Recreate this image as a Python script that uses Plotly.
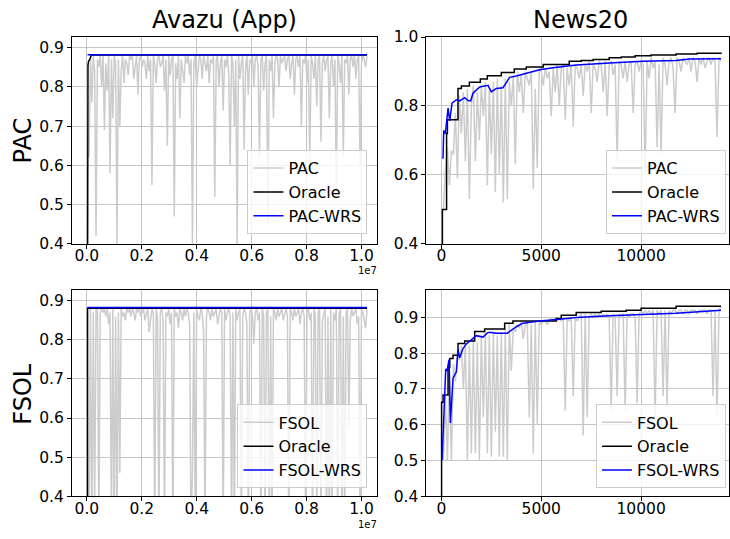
import numpy as np
import plotly.graph_objects as go

FONT = "DejaVu Sans"
GRAY = "#cccccc"

# ---------------- Avazu (App): accuracy over ~1e7 samples ----------------
AVAZU_N = 200
avazu_x = np.linspace(8e4, 1.02e7, AVAZU_N)

avazu_pac = [
    0.62, 0.87, 0.76, 0.88, 0.84, 0.42, 0.87, 0.85, 0.88, 0.80,
    0.88, 0.69, 0.86, 0.79, 0.88, 0.58, 0.87, 0.72, 0.88, 0.86,
    0.40, 0.87, 0.70, 0.84, 0.88, 0.81, 0.87, 0.86, 0.83, 0.88,
    0.87, 0.88, 0.82, 0.86, 0.88, 0.78, 0.87, 0.88, 0.85, 0.87,
    0.86, 0.82, 0.88, 0.84, 0.87, 0.55, 0.88, 0.86, 0.81, 0.87,
    0.88, 0.85, 0.86, 0.88, 0.79, 0.87, 0.65, 0.88, 0.83, 0.87,
    0.88, 0.47, 0.86, 0.82, 0.88, 0.72, 0.87, 0.84, 0.81, 0.88,
    0.86, 0.88, 0.83, 0.87, 0.40, 0.86, 0.88, 0.80, 0.85, 0.88,
    0.87, 0.82, 0.88, 0.86, 0.84, 0.88, 0.81, 0.87, 0.86, 0.88,
    0.52, 0.87, 0.88, 0.80, 0.86, 0.88, 0.74, 0.87, 0.85, 0.88,
    0.83, 0.60, 0.88, 0.86, 0.70, 0.87, 0.40, 0.88, 0.82, 0.86,
    0.88, 0.64, 0.85, 0.88, 0.78, 0.87, 0.86, 0.88, 0.80, 0.87,
    0.88, 0.85, 0.62, 0.87, 0.88, 0.79, 0.86, 0.88, 0.45, 0.87,
    0.84, 0.88, 0.72, 0.86, 0.88, 0.87, 0.80, 0.88, 0.86, 0.87,
    0.88, 0.84, 0.87, 0.88, 0.82, 0.86, 0.88, 0.78, 0.87, 0.88,
    0.85, 0.88, 0.70, 0.87, 0.86, 0.88, 0.81, 0.87, 0.60, 0.88,
    0.86, 0.82, 0.88, 0.75, 0.87, 0.88, 0.66, 0.86, 0.88, 0.84,
    0.87, 0.88, 0.72, 0.86, 0.88, 0.80, 0.87, 0.52, 0.88, 0.86,
    0.81, 0.88, 0.62, 0.87, 0.86, 0.88, 0.78, 0.87, 0.88, 0.85,
    0.88, 0.82, 0.87, 0.88, 0.60, 0.86, 0.88, 0.87, 0.85, 0.88,
]

avazu_fsol = [
    0.30, 0.88, 0.30, 0.87, 0.35, 0.88, 0.88, 0.30, 0.87, 0.88,
    0.87, 0.88, 0.86, 0.88, 0.84, 0.87, 0.30, 0.88, 0.30, 0.86,
    0.30, 0.87, 0.46, 0.88, 0.86, 0.87, 0.85, 0.88, 0.87, 0.88,
    0.86, 0.88, 0.87, 0.85, 0.88, 0.87, 0.88, 0.86, 0.87, 0.88,
    0.85, 0.87, 0.88, 0.82, 0.86, 0.88, 0.87, 0.30, 0.88, 0.86,
    0.30, 0.87, 0.88, 0.85, 0.30, 0.87, 0.86, 0.88, 0.84, 0.87,
    0.30, 0.88, 0.86, 0.87, 0.83, 0.88, 0.87, 0.85, 0.88, 0.86,
    0.88, 0.87, 0.84, 0.30, 0.46, 0.87, 0.30, 0.88, 0.86, 0.85,
    0.88, 0.87, 0.82, 0.30, 0.86, 0.88, 0.87, 0.85, 0.88, 0.86,
    0.87, 0.88, 0.84, 0.86, 0.88, 0.87, 0.30, 0.88, 0.85, 0.87,
    0.88, 0.86, 0.30, 0.87, 0.30, 0.88, 0.85, 0.87, 0.88, 0.30,
    0.86, 0.88, 0.87, 0.84, 0.30, 0.87, 0.88, 0.86, 0.79, 0.87,
    0.88, 0.85, 0.87, 0.30, 0.88, 0.86, 0.30, 0.87, 0.88, 0.30,
    0.86, 0.30, 0.88, 0.87, 0.85, 0.88, 0.86, 0.87, 0.88, 0.85,
    0.87, 0.88, 0.86, 0.30, 0.88, 0.87, 0.85, 0.88, 0.86, 0.87,
    0.88, 0.84, 0.87, 0.88, 0.86, 0.30, 0.87, 0.88, 0.85, 0.87,
    0.30, 0.88, 0.86, 0.30, 0.87, 0.88, 0.30, 0.85, 0.87, 0.88,
    0.30, 0.86, 0.30, 0.88, 0.30, 0.87, 0.85, 0.88, 0.30, 0.87,
    0.88, 0.30, 0.86, 0.30, 0.87, 0.88, 0.57, 0.85, 0.88, 0.86,
    0.87, 0.88, 0.84, 0.86, 0.30, 0.88, 0.87, 0.85, 0.83, 0.88,
]

avazu_pac_oracle_x = [2.5e4, 2.6e4, 4e4, 6e4, 1.1e5, 1.6e5, 1.02e7]
avazu_pac_oracle_y = [0.30, 0.82, 0.855, 0.865, 0.87, 0.881, 0.881]
avazu_pac_wrs_x = [2.5e4, 1.02e7]
avazu_pac_wrs_y = [0.882, 0.882]

avazu_fsol_oracle_x = [2.5e4, 2.6e4, 1.02e7]
avazu_fsol_oracle_y = [0.30, 0.881, 0.881]
avazu_fsol_wrs_x = [2.5e4, 1.02e7]
avazu_fsol_wrs_y = [0.883, 0.883]

# ---------------- News20: accuracy over ~14000 samples ----------------
news_x = np.arange(100, 14001, 100)

news_pac = [
    0.50, 0.62, 0.68, 0.57, 0.67, 0.66, 0.78, 0.59, 0.83, 0.72,
    0.84, 0.64, 0.85, 0.53, 0.80, 0.86, 0.64, 0.84, 0.70, 0.86,
    0.77, 0.87, 0.57, 0.85, 0.66, 0.87, 0.55, 0.88, 0.60, 0.86,
    0.52, 0.88, 0.53, 0.87, 0.80, 0.89, 0.63, 0.90, 0.84, 0.89,
    0.78, 0.90, 0.88, 0.86, 0.90, 0.56, 0.85, 0.62, 0.91, 0.90,
    0.86, 0.91, 0.88, 0.90, 0.77, 0.91, 0.84, 0.92, 0.80, 0.91,
    0.92, 0.76, 0.91, 0.86, 0.92, 0.74, 0.92, 0.91, 0.88, 0.92,
    0.83, 0.92, 0.90, 0.93, 0.78, 0.92, 0.91, 0.87, 0.93, 0.92,
    0.84, 0.93, 0.77, 0.92, 0.93, 0.89, 0.92, 0.64, 0.93, 0.92,
    0.88, 0.93, 0.87, 0.92, 0.93, 0.78, 0.92, 0.93, 0.90, 0.93,
    0.92, 0.60, 0.93, 0.88, 0.94, 0.91, 0.93, 0.68, 0.92, 0.66,
    0.94, 0.92, 0.86, 0.93, 0.94, 0.91, 0.78, 0.94, 0.93, 0.90,
    0.94, 0.93, 0.92, 0.94, 0.90, 0.94, 0.93, 0.87, 0.94, 0.92,
    0.94, 0.91, 0.93, 0.94, 0.92, 0.94, 0.93, 0.71, 0.94, 0.93,
]

news_fsol = [
    0.50, 0.68, 0.50, 0.75, 0.50, 0.77, 0.72, 0.80, 0.78, 0.82,
    0.70, 0.83, 0.50, 0.82, 0.52, 0.84, 0.52, 0.83, 0.50, 0.85,
    0.62, 0.86, 0.52, 0.85, 0.51, 0.86, 0.58, 0.85, 0.51, 0.86,
    0.51, 0.87, 0.50, 0.88, 0.75, 0.87, 0.86, 0.88, 0.87, 0.89,
    0.84, 0.88, 0.89, 0.62, 0.88, 0.52, 0.89, 0.60, 0.89, 0.88,
    0.89, 0.89, 0.88, 0.89, 0.90, 0.89, 0.90, 0.89, 0.90, 0.89,
    0.90, 0.64, 0.90, 0.89, 0.90, 0.68, 0.90, 0.89, 0.90, 0.91,
    0.57, 0.91, 0.62, 0.90, 0.91, 0.90, 0.91, 0.90, 0.91, 0.90,
    0.91, 0.90, 0.91, 0.90, 0.64, 0.91, 0.90, 0.68, 0.91, 0.90,
    0.91, 0.64, 0.91, 0.90, 0.91, 0.91, 0.90, 0.66, 0.91, 0.92,
    0.91, 0.92, 0.91, 0.92, 0.91, 0.92, 0.62, 0.92, 0.91, 0.92,
    0.68, 0.92, 0.65, 0.92, 0.91, 0.92, 0.92, 0.91, 0.92, 0.92,
    0.91, 0.92, 0.92, 0.91, 0.92, 0.92, 0.92, 0.91, 0.92, 0.92,
    0.92, 0.92, 0.91, 0.92, 0.92, 0.68, 0.92, 0.62, 0.92, 0.93,
]

news_pac_oracle_x = [0, 50, 260, 300, 720, 830, 1000, 1400, 1950, 2300, 3000,
                     3650, 4250, 5100, 6400, 7000, 7600, 8400, 9000, 9700,
                     10500, 11750, 12800, 14000]
news_pac_oracle_y = [0.30, 0.50, 0.72, 0.76, 0.76, 0.851, 0.858, 0.869, 0.878,
                     0.888, 0.897, 0.907, 0.913, 0.920, 0.930, 0.932, 0.935,
                     0.940, 0.942, 0.946, 0.948, 0.951, 0.953, 0.955]

news_pac_wrs_x = [80, 117, 200, 333, 417, 533, 750, 917, 1167, 1333, 1467, 1583,
                  1917, 2333, 2500, 2750, 3083, 3417, 3750, 4250, 4917, 5583,
                  6750, 8417, 10083, 11750, 12417, 14000]
news_pac_wrs_y = [0.647, 0.729, 0.720, 0.794, 0.757, 0.808, 0.818, 0.815, 0.824,
                  0.816, 0.815, 0.837, 0.855, 0.860, 0.841, 0.851, 0.853, 0.883,
                  0.887, 0.895, 0.905, 0.911, 0.919, 0.925, 0.930, 0.932, 0.936,
                  0.937]

news_fsol_oracle_x = [0, 10, 83, 333, 420, 583, 833, 1167, 1667, 2167, 3167, 3583,
                      5750, 6000, 6750, 8000, 9250, 10000, 11750, 14000]
news_fsol_oracle_y = [0.30, 0.663, 0.683, 0.760, 0.785, 0.794, 0.827, 0.834, 0.861,
                      0.868, 0.884, 0.890, 0.897, 0.906, 0.914, 0.917, 0.920,
                      0.926, 0.931, 0.931]

news_fsol_wrs_x = [35, 217, 280, 383, 450, 583, 750, 833, 917, 1083, 1250, 1500,
                   1750, 2083, 2333, 2500, 2750, 3300, 3750, 4083, 4917, 5917,
                   6750, 8417, 10083, 11750, 14000]
news_fsol_wrs_y = [0.501, 0.756, 0.750, 0.782, 0.605, 0.730, 0.748, 0.810, 0.787,
                   0.813, 0.826, 0.838, 0.849, 0.845, 0.858, 0.858, 0.856, 0.856,
                   0.874, 0.884, 0.890, 0.895, 0.900, 0.905, 0.908, 0.912, 0.920]

avazu_ticks = [0, 2e6, 4e6, 6e6, 8e6, 1e7]
avazu_ticktext = ["0.0", "0.2", "0.4", "0.6", "0.8", "1.0"]
news_ticks = [0, 5000, 10000]
news_ticktext = ["0", "5000", "10000"]

W, H = 730, 539


def px_x(p):
    return p / W


def px_y(p):
    return 1 - p / H


fig = go.Figure()


def add_panel(n, gx, gy, gname, ox, oy, wx, wy, wname, oracle_shape):
    suffix = "" if n == 1 else str(n)
    leg = "legend" if n == 1 else f"legend{n}"
    common = dict(xaxis="x" + suffix, yaxis="y" + suffix, legend=leg,
                  mode="lines")
    fig.add_trace(go.Scatter(x=gx, y=gy, name=gname,
                             line=dict(color=GRAY, width=1.5), **common))
    fig.add_trace(go.Scatter(x=ox, y=oy, name="Oracle",
                             line=dict(color="black", width=1.5,
                                       shape=oracle_shape), **common))
    fig.add_trace(go.Scatter(x=wx, y=wy, name=wname,
                             line=dict(color="blue", width=1.5), **common))


add_panel(1, avazu_x, avazu_pac, "PAC", avazu_pac_oracle_x, avazu_pac_oracle_y,
          avazu_pac_wrs_x, avazu_pac_wrs_y, "PAC-WRS", "linear")
add_panel(2, news_x, news_pac, "PAC", news_pac_oracle_x, news_pac_oracle_y,
          news_pac_wrs_x, news_pac_wrs_y, "PAC-WRS", "hv")
add_panel(3, avazu_x, avazu_fsol, "FSOL", avazu_fsol_oracle_x, avazu_fsol_oracle_y,
          avazu_fsol_wrs_x, avazu_fsol_wrs_y, "FSOL-WRS", "linear")
add_panel(4, news_x, news_fsol, "FSOL", news_fsol_oracle_x, news_fsol_oracle_y,
          news_fsol_wrs_x, news_fsol_wrs_y, "FSOL-WRS", "hv")

tickfont = dict(family=FONT, size=15.5, color="black")


def axis(domain, rng, **kw):
    d = dict(domain=domain, range=rng, showline=True, linecolor="black",
             linewidth=1, mirror=True, ticks="outside", ticklen=4,
             tickcolor="black", tickwidth=1, showgrid=True,
             gridcolor="#c4c4c4", gridwidth=0.8, zeroline=False,
             tickfont=tickfont)
    d.update(kw)
    return d


left_dom = [px_x(72), px_x(378)]
right_dom = [px_x(427), 1.0]
top_dom = [px_y(243), px_y(29)]
bot_dom = [px_y(504), px_y(291)]

avazu_range = [-5.45e5, 1.058e7]
news_range = [-750, 14400]
xlab = dict(ticklabelstandoff=-6)

layout = dict(
    width=W, height=H, margin=dict(l=0, r=0, t=0, b=0),
    plot_bgcolor="white", paper_bgcolor="white",
    font=dict(family=FONT, color="black"),
    xaxis=axis(left_dom, avazu_range, anchor="y", tickvals=avazu_ticks,
               ticktext=avazu_ticktext, **xlab),
    yaxis=axis(top_dom, [0.4, 0.927], anchor="x", dtick=0.1, tick0=0.4,
               tickformat=".1f"),
    xaxis2=axis(right_dom, news_range, anchor="y2", tickvals=news_ticks,
                ticktext=news_ticktext, **xlab),
    yaxis2=axis(top_dom, [0.4, 1.0], anchor="x2", dtick=0.2, tick0=0.4,
                tickformat=".1f"),
    xaxis3=axis(left_dom, avazu_range, anchor="y3", tickvals=avazu_ticks,
                ticktext=avazu_ticktext, **xlab),
    yaxis3=axis(bot_dom, [0.4, 0.927], anchor="x3", dtick=0.1, tick0=0.4,
                tickformat=".1f"),
    xaxis4=axis(right_dom, news_range, anchor="y4", tickvals=news_ticks,
                ticktext=news_ticktext, **xlab),
    yaxis4=axis(bot_dom, [0.4, 0.976], anchor="x4", dtick=0.1, tick0=0.4,
                tickformat=".1f"),
)

legend_style = dict(bgcolor="rgba(255,255,255,0.8)", bordercolor="#cccccc",
                    borderwidth=1, font=dict(family=FONT, size=16),
                    xanchor="right", yanchor="bottom", tracegroupgap=0)
layout["legend"] = dict(x=px_x(368), y=px_y(233), **legend_style)
layout["legend2"] = dict(x=px_x(727), y=px_y(233), **legend_style)
layout["legend3"] = dict(x=px_x(368), y=px_y(496), **legend_style)
layout["legend4"] = dict(x=px_x(727), y=px_y(496), **legend_style)

annotations = [
    dict(text="Avazu (App)", x=px_x(225), y=px_y(11), font=dict(size=24)),
    dict(text="News20", x=px_x(581), y=px_y(11), font=dict(size=24)),
    dict(text="PAC", x=px_x(23), y=px_y(136), font=dict(size=24), textangle=-90),
    dict(text="FSOL", x=px_x(23), y=px_y(398), font=dict(size=24), textangle=-90),
    dict(text="1e7", x=px_x(380), y=px_y(271), font=dict(size=10), xanchor="right"),
    dict(text="1e7", x=px_x(380), y=px_y(533), font=dict(size=10), xanchor="right"),
]
for a in annotations:
    a.update(xref="paper", yref="paper", showarrow=False)
    a.setdefault("xanchor", "center")
    a.setdefault("yanchor", "middle")
    a["font"].update(family=FONT, color="black")
layout["annotations"] = annotations

fig.update_layout(**layout)
fig.write_html("out.html")
